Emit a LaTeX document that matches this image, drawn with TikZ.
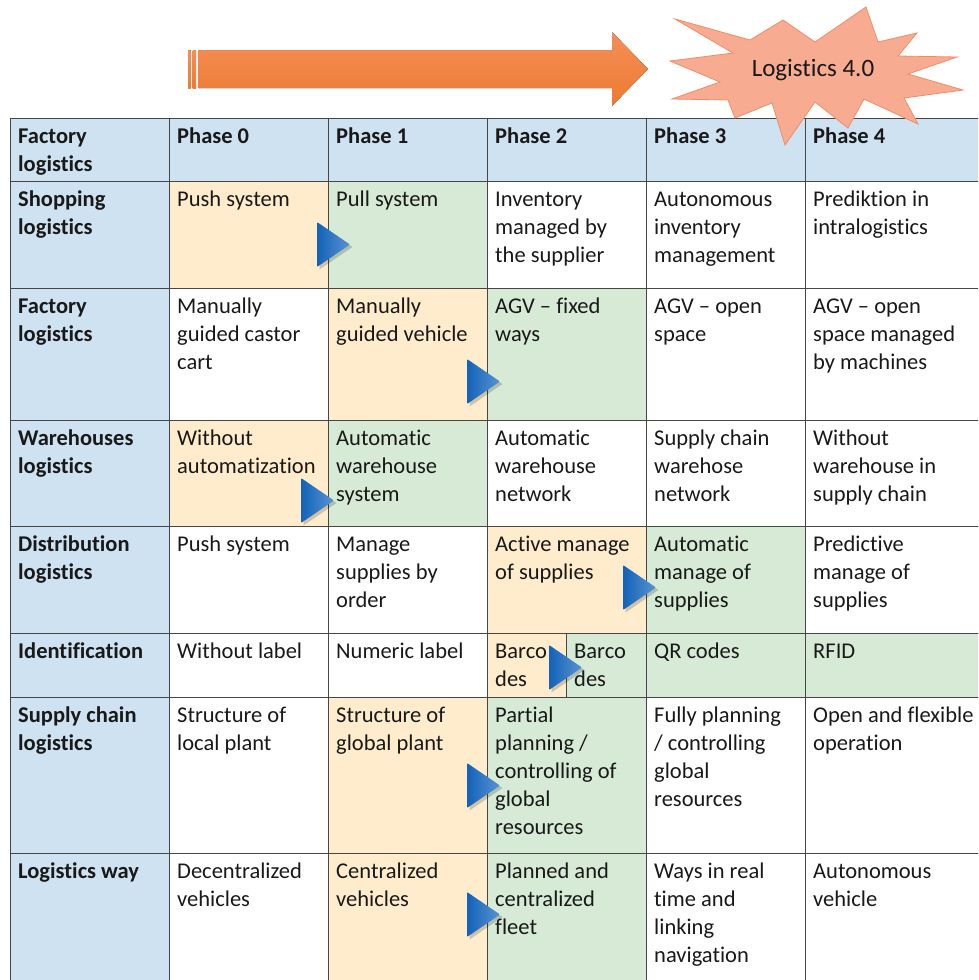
\documentclass[tikz,border=0pt]{standalone}
\usepackage{fontspec}
\setmainfont{Carlito}[Ligatures=NoCommon, RawFeature={-calt;-dlig}]
\definecolor{hdrblue}{RGB}{207,226,241}
\definecolor{cellor}{RGB}{255,236,204}
\definecolor{cellgr}{RGB}{214,234,214}
\definecolor{gridc}{RGB}{70,70,70}
\definecolor{txtc}{RGB}{25,25,25}
\definecolor{arrtop}{RGB}{244,142,88}
\definecolor{arrbot}{RGB}{237,123,48}
\definecolor{starfill}{RGB}{247,172,146}
\definecolor{stardraw}{RGB}{240,140,100}
\definecolor{tril}{RGB}{18,98,184}
\definecolor{trir}{RGB}{90,148,210}
\newcommand\cellfnt{\fontsize{22.5}{28}\selectfont}
\tikzset{
  cell/.style={anchor=north west, inner sep=0pt, align=left, font=\cellfnt, text=txtc},
  bcell/.style={cell, font=\cellfnt\bfseries},
  gridline/.style={draw=gridc, line width=1pt},
  playtri/.pic={
    \fill[black, opacity=0.18] (2.5,2.5) -- (35.5,25) -- (2.5,47.5) -- cycle;
    \shade[left color=tril, right color=trir, rounded corners=1pt] (0,0) -- (33,22.5) -- (0,45) -- cycle;
  }
}
\begin{document}
\begin{tikzpicture}[x=1pt, y=-1pt]
\useasboundingbox (0,0) rectangle (978,980);
\begin{scope}
\clip (0,0) rectangle (978,980);
% background fills
\fill[hdrblue] (10,118) rectangle (990,181);
\fill[hdrblue] (10,118) rectangle (169,990);
% row 1
\fill[cellor] (169,181) rectangle (328,288);
\fill[cellgr] (328,181) rectangle (487,288);
% row 2
\fill[cellor] (328,288) rectangle (487,420);
\fill[cellgr] (487,288) rectangle (646,420);
% row 3
\fill[cellor] (169,420) rectangle (328,526);
\fill[cellgr] (328,420) rectangle (487,526);
% row 4
\fill[cellor] (487,526) rectangle (646,633);
\fill[cellgr] (646,526) rectangle (805,633);
% row 5
\fill[cellor] (487,633) rectangle (566,697);
\fill[cellgr] (566,633) rectangle (990,697);
% row 6
\fill[cellor] (328,697) rectangle (487,853);
\fill[cellgr] (487,697) rectangle (646,853);
% row 7
\fill[cellor] (328,853) rectangle (487,990);
\fill[cellgr] (487,853) rectangle (646,990);
% grid
\foreach \yy in {118,181,288,420,526,633,697,853}
  \draw[gridline] (10,\yy) -- (990,\yy);
\foreach \xx in {10,169,328,487,646,805}
  \draw[gridline] (\xx,118) -- (\xx,990);
\draw[gridline] (566,633) -- (566,697);
\end{scope}

% top arrow
\fill[top color=arrtop, bottom color=arrbot] (188,50) rectangle (190.5,88);
\fill[top color=arrtop, bottom color=arrbot] (192.5,50) rectangle (196,88);
\fill[top color=arrtop, bottom color=arrbot] (198.5,50) -- (612,50) -- (612,32) -- (648,69) -- (612,106) -- (612,88) -- (198.5,88) -- cycle;

% star
\path[fill=starfill, draw=stardraw, line width=0.8pt]
  (866,7) -- (878,42) -- (917,33) -- (898,56) -- (957,57) -- (908,74) -- (963,90) -- (904,98)
  -- (918,124) -- (864,99) -- (848,128) -- (815,102) -- (785,145) -- (772,103) -- (735,118)
  -- (728,100) -- (672,99) -- (720,82) -- (670,61) -- (733,53) -- (675,19) -- (750,40)
  -- (783,20) -- (815,42) -- cycle;
\node[font=\fontsize{25}{30}\selectfont, text=txtc, inner sep=0pt] (star) at (813,70) {Logistics 4.0};

% triangles
\pic at (317,222) {playtri};
\pic at (467,359) {playtri};
\pic at (301,478) {playtri};
\pic at (623,565) {playtri};
\pic at (549,645) {playtri};
\pic at (467,763) {playtri};
\pic at (467,892) {playtri};

% header
\node[bcell] (h0) at (18,123.4) {\strut Factory\\logistics};
\node[bcell] (h1) at (177,123.4) {\strut Phase 0};
\node[bcell] (h2) at (336,123.4) {\strut Phase 1};
\node[bcell] (h3) at (495,123.4) {\strut Phase 2};
\node[bcell] (h4) at (654,123.4) {\strut Phase 3};
\node[bcell] (h5) at (813,123.4) {\strut Phase 4};
% row 1
\node[bcell] (r1c0) at (18,186.4) {\strut Shopping\\logistics};
\node[cell] (r1c1) at (177,186.4) {\strut Push system};
\node[cell] (r1c2) at (336,186.4) {\strut Pull system};
\node[cell] (r1c3) at (495,186.4) {\strut Inventory\\managed by\\the supplier};
\node[cell] (r1c4) at (654,186.4) {\strut Autonomous\\inventory\\management};
\node[cell] (r1c5) at (813,186.4) {\strut Prediktion in\\intralogistics};
% row 2
\node[bcell] (r2c0) at (18,294) {\strut Factory\\logistics};
\node[cell] (r2c1) at (177,294) {\strut Manually\\guided castor\\cart};
\node[cell] (r2c2) at (336,294) {\strut Manually\\guided vehicle};
\node[cell] (r2c3) at (495,294) {\strut AGV – fixed\\ways};
\node[cell] (r2c4) at (654,294) {\strut AGV – open\\space};
\node[cell] (r2c5) at (813,294) {\strut AGV – open\\space managed\\by machines};
% row 3
\node[bcell] (r3c0) at (18,426) {\strut Warehouses\\logistics};
\node[cell] (r3c1) at (177,426) {\strut Without\\automatization};
\node[cell] (r3c2) at (336,426) {\strut Automatic\\warehouse\\system};
\node[cell] (r3c3) at (495,426) {\strut Automatic\\warehouse\\network};
\node[cell] (r3c4) at (654,426) {\strut Supply chain\\warehose\\network};
\node[cell] (r3c5) at (813,426) {\strut Without\\warehouse in\\supply chain};
% row 4
\node[bcell] (r4c0) at (18,532) {\strut Distribution\\logistics};
\node[cell] (r4c1) at (177,532) {\strut Push system};
\node[cell] (r4c2) at (336,532) {\strut Manage\\supplies by\\order};
\node[cell] (r4c3) at (495,532) {\strut Active manage\\of supplies};
\node[cell] (r4c4) at (654,532) {\strut Automatic\\manage of\\supplies};
\node[cell] (r4c5) at (813,532) {\strut Predictive\\manage of\\supplies};
% row 5
\node[bcell] (r5c0) at (18,639) {\strut Identification};
\node[cell] (r5c1) at (177,639) {\strut Without label};
\node[cell] (r5c2) at (336,639) {\strut Numeric label};
\node[cell] (r5c3a) at (495,639) {\strut Barco\\des};
\node[cell] (r5c3b) at (574,639) {\strut Barco\\des};
\node[cell] (r5c4) at (654,639) {\strut QR codes};
\node[cell] (r5c5) at (813,639) {\strut RFID};
% row 6
\node[bcell] (r6c0) at (18,703) {\strut Supply chain\\logistics};
\node[cell] (r6c1) at (177,703) {\strut Structure of\\local plant};
\node[cell] (r6c2) at (336,703) {\strut Structure of\\global plant};
\node[cell] (r6c3) at (495,703) {\strut Partial\\planning /\\controlling of\\global\\resources};
\node[cell] (r6c4) at (654,703) {\strut Fully planning\\/ controlling\\global\\resources};
\node[cell] (r6c5) at (813,703) {\strut Open and flexible\\operation};
% row 7
\node[bcell] (r7c0) at (18,859) {\strut Logistics way};
\node[cell] (r7c1) at (177,859) {\strut Decentralized\\vehicles};
\node[cell] (r7c2) at (336,859) {\strut Centralized\\vehicles};
\node[cell] (r7c3) at (495,859) {\strut Planned and\\centralized\\fleet};
\node[cell] (r7c4) at (654,859) {\strut Ways in real\\time and\\linking\\navigation};
\node[cell] (r7c5) at (813,859) {\strut Autonomous\\vehicle};
\end{tikzpicture}
\end{document}
